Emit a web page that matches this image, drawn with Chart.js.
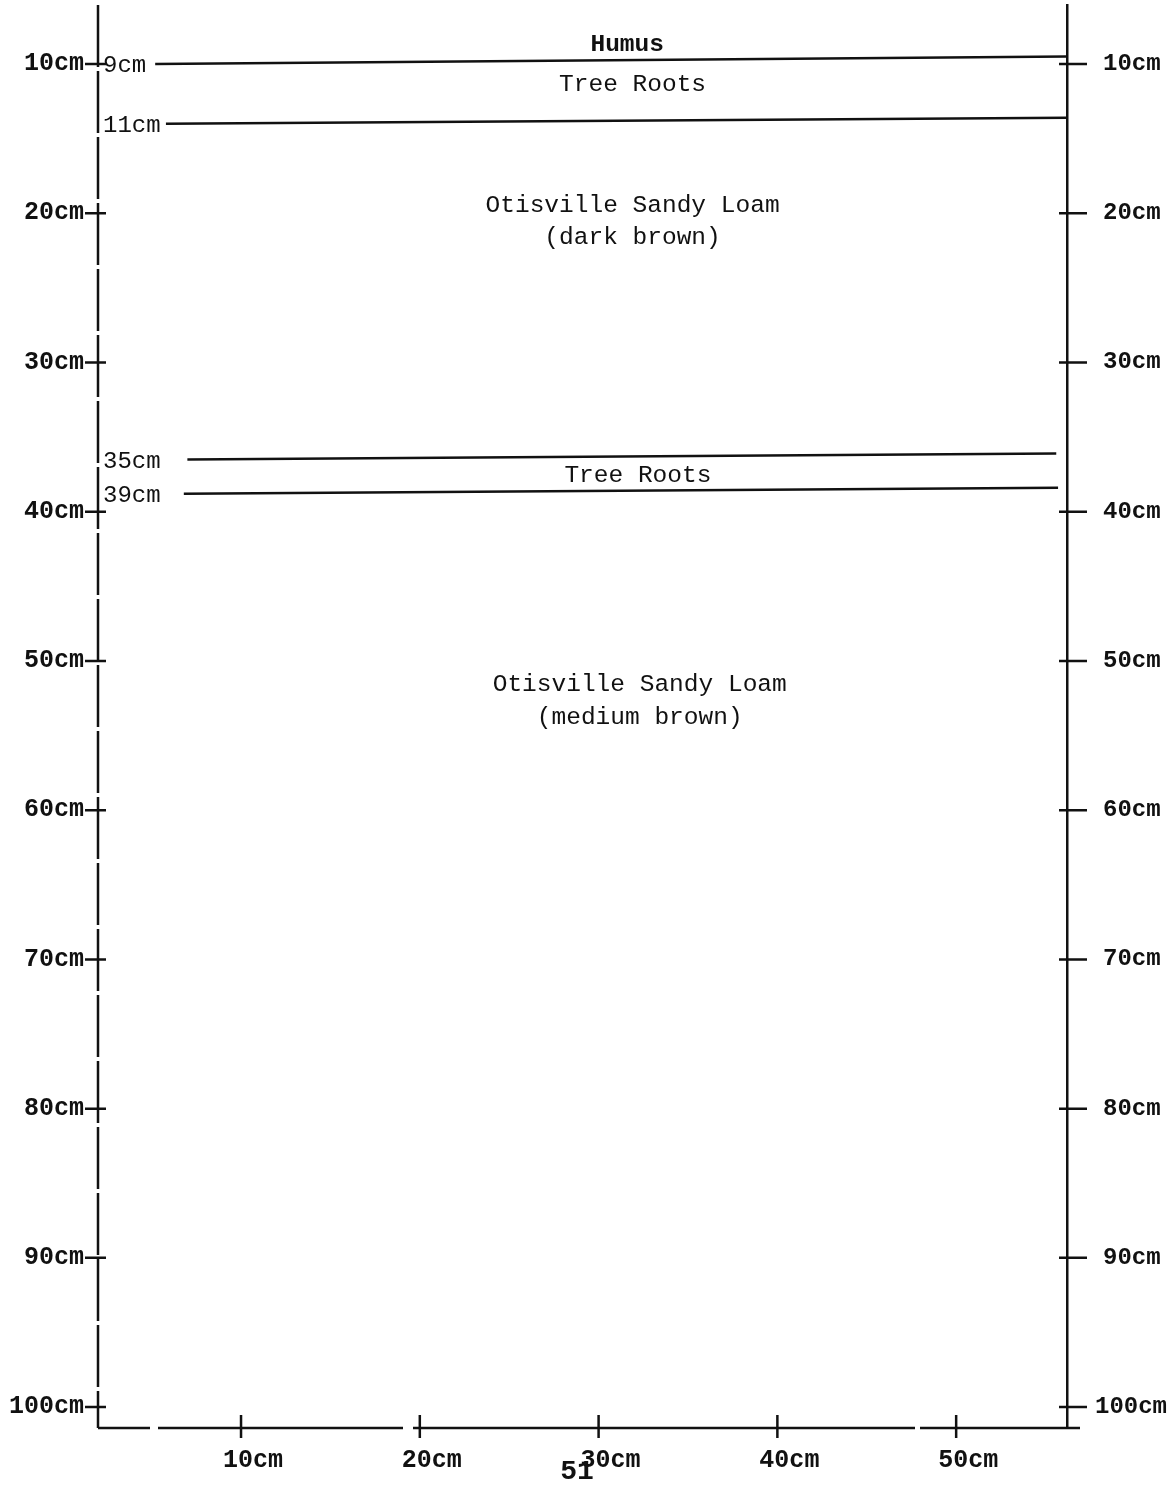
<!DOCTYPE html>
<html>
<head>
<meta charset="utf-8">
<script src="https://cdn.jsdelivr.net/npm/chart.js@4/dist/chart.umd.min.js"></script>
<style>
  html, body { margin: 0; padding: 0; background: #fff; }
  #wrap { width: 1175px; height: 1489px; position: relative; }
</style>
</head>
<body>
<div id="wrap"><canvas id="profile"></canvas></div>
<script>
const depthTicks = [10, 20, 30, 40, 50, 60, 70, 80, 90, 100];
const widthTicks = [10, 20, 30, 40, 50];

const boundaryNames = ['9cm', '11cm', '35cm', '39cm'];
const boundaryStartX = [5.2, 5.8, 7.0, 6.8];
const boundaryEndX = [56.2, 56.2, 55.6, 55.7];
const boundaryStartDepth = [10.0, 14.0, 36.5, 38.8];
const boundaryEndDepth = [9.5, 13.6, 36.1, 38.4];

const layerNames = ['Humus', 'Tree Roots', 'Otisville Sandy Loam', '(dark brown)',
  'Tree Roots', 'Otisville Sandy Loam', '(medium brown)'];
const layerX = [31.6, 31.9, 31.9, 31.9, 32.2, 32.3, 32.3];
const layerDepth = [8.75, 11.4, 19.5, 21.6, 37.55, 51.6, 53.8];
const layerBold = [true, false, false, false, false, false, false];

const ink = '#111';
const mono = '"Liberation Mono", "DejaVu Sans Mono", monospace';

const profileText = {
  id: 'profileText',
  afterDraw(chart) {
    const { ctx, chartArea, scales } = chart;
    const x = scales.x;
    const y = scales.y;
    ctx.save();
    ctx.strokeStyle = ink;
    ctx.fillStyle = ink;
    ctx.lineWidth = 2.5;

    // left and bottom axis lines, broken like the original
    ctx.setLineDash([62, 4]);
    ctx.beginPath();
    ctx.moveTo(chartArea.left, chartArea.top);
    ctx.lineTo(chartArea.left, chartArea.bottom);
    ctx.stroke();
    ctx.setLineDash([52, 8, 245, 10, 502, 5, 400, 0]);
    ctx.beginPath();
    ctx.moveTo(chartArea.left, chartArea.bottom);
    ctx.lineTo(chartArea.right + 13, chartArea.bottom);
    ctx.stroke();
    ctx.setLineDash([]);

    // tick marks crossing the axes
    depthTicks.forEach((v) => {
      const py = y.getPixelForValue(v);
      ctx.beginPath();
      ctx.moveTo(chartArea.left - 13, py);
      ctx.lineTo(chartArea.left + 8, py);
      ctx.moveTo(chartArea.right - 8, py);
      ctx.lineTo(chartArea.right + 20, py);
      ctx.stroke();
    });
    widthTicks.forEach((v) => {
      const px = x.getPixelForValue(v);
      ctx.beginPath();
      ctx.moveTo(px, chartArea.bottom - 13);
      ctx.lineTo(px, chartArea.bottom + 10);
      ctx.stroke();
    });

    // right-hand depth labels
    ctx.font = 'bold 24px ' + mono;
    ctx.textAlign = 'left';
    ctx.textBaseline = 'middle';
    depthTicks.forEach((v) => {
      const label = v + 'cm';
      const px = chartArea.right + (label.length > 4 ? 28 : 36);
      ctx.fillText(label, px, y.getPixelForValue(v));
    });

    // boundary depth labels
    ctx.font = '24px ' + mono;
    boundaryNames.forEach((name, i) => {
      const py = y.getPixelForValue(boundaryStartDepth[i]);
      ctx.fillText(name, chartArea.left + 5, py + 2);
    });

    // layer names
    ctx.textAlign = 'center';
    layerNames.forEach((name, i) => {
      ctx.font = (layerBold[i] ? 'bold ' : '') + '24.5px ' + mono;
      ctx.fillText(name, x.getPixelForValue(layerX[i]), y.getPixelForValue(layerDepth[i]));
    });

    // page number
    ctx.font = 'bold 28px ' + mono;
    ctx.fillText('51', 577, 1472);
    ctx.restore();
  }
};

const boundaryDatasets = boundaryNames.map((name, i) => ({
  label: name,
  data: [
    { x: boundaryStartX[i], y: boundaryStartDepth[i] },
    { x: boundaryEndX[i], y: boundaryEndDepth[i] }
  ],
  showLine: true,
  borderColor: ink,
  borderWidth: 2.5,
  pointRadius: 0,
  yAxisID: 'y'
}));

const depthAxis = (position, width, showLabels) => ({
  type: 'linear',
  position: position,
  reverse: true,
  min: 6.05,
  max: 101.4,
  afterBuildTicks: (axis) => { axis.ticks = depthTicks.map((v) => ({ value: v })); },
  afterFit: (axis) => {
    axis.width = width;
    axis.paddingTop = 0;
    axis.paddingBottom = 0;
  },
  grid: { display: false, drawTicks: false },
  border: { display: position === 'right', color: ink, width: 2.5 },
  ticks: {
    display: showLabels,
    color: ink,
    padding: 14,
    font: { family: mono, size: 25, weight: 'bold' },
    callback: (v) => v + 'cm'
  }
});

new Chart(document.getElementById('profile'), {
  type: 'scatter',
  data: { datasets: boundaryDatasets },
  options: {
    responsive: true,
    maintainAspectRatio: false,
    animation: false,
    layout: { padding: { top: 5, left: 0, right: 0, bottom: 0 } },
    plugins: {
      legend: { display: false },
      tooltip: { enabled: false }
    },
    scales: {
      x: {
        type: 'linear',
        position: 'bottom',
        min: 2.0,
        max: 56.2,
        afterBuildTicks: (axis) => { axis.ticks = widthTicks.map((v) => ({ value: v })); },
        afterFit: (axis) => {
          axis.height = 61;
          axis.paddingLeft = 0;
          axis.paddingRight = 0;
        },
        grid: { display: false, drawTicks: false },
        border: { display: false },
        ticks: {
          color: ink,
          padding: 18,
          labelOffset: 12,
          maxRotation: 0,
          font: { family: mono, size: 25, weight: 'bold' },
          callback: (v) => v + 'cm'
        }
      },
      y: depthAxis('left', 98, true),
      y2: depthAxis('right', 108, false)
    }
  },
  plugins: [profileText]
});
</script>
</body>
</html>
